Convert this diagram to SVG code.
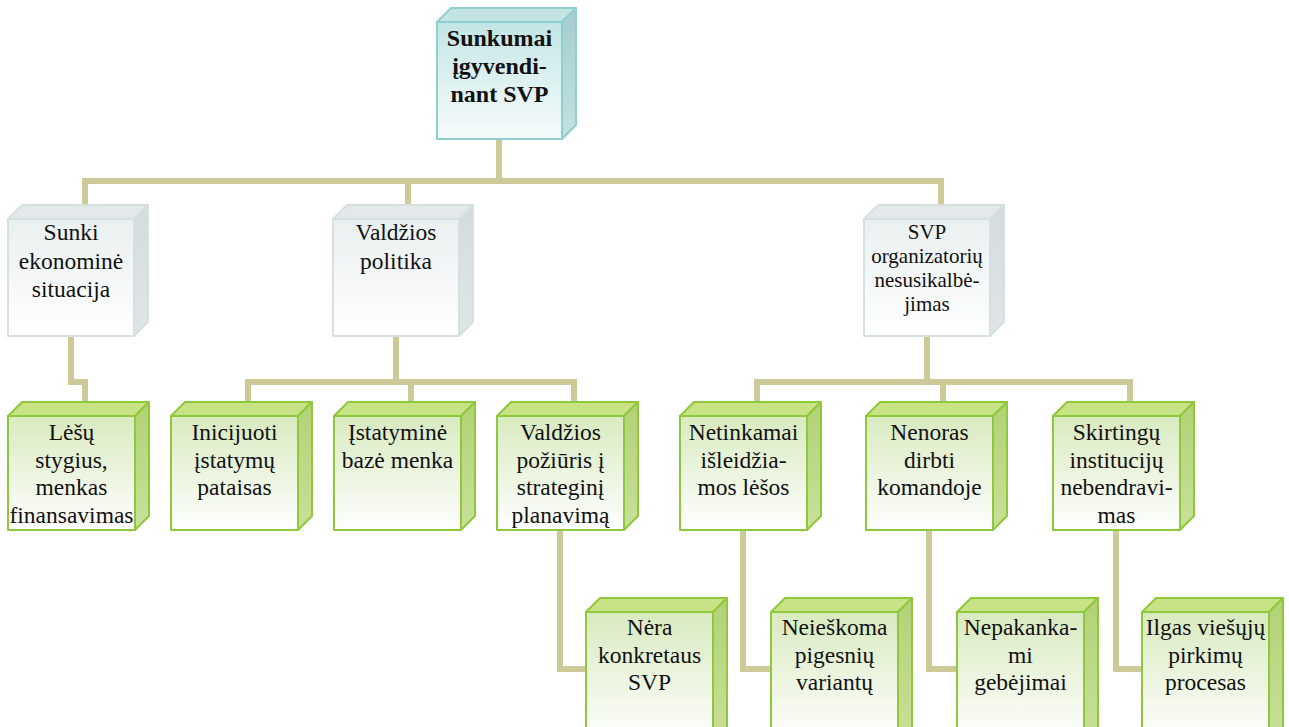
<svg xmlns="http://www.w3.org/2000/svg" width="1289" height="727" viewBox="0 0 1289 727" font-family="'Liberation Serif', 'Times New Roman', Times, 'DejaVu Serif', serif">
  <defs>
    <linearGradient id="frontTeal" x1="0" y1="0" x2="0" y2="1">
      <stop offset="0" stop-color="#c3e5e5"/>
      <stop offset="1" stop-color="#f7fcfc"/>
    </linearGradient>
    <linearGradient id="sideTeal" x1="0" y1="0" x2="0" y2="1">
      <stop offset="0" stop-color="#a4cdcd"/>
      <stop offset="1" stop-color="#c4e1e1"/>
    </linearGradient>
    <linearGradient id="frontGray" x1="0" y1="0" x2="0" y2="1">
      <stop offset="0" stop-color="#eaeff0"/>
      <stop offset="1" stop-color="#ffffff"/>
    </linearGradient>
    <linearGradient id="sideGray" x1="0" y1="0" x2="0" y2="1">
      <stop offset="0" stop-color="#d3dbdc"/>
      <stop offset="1" stop-color="#e0e6e7"/>
    </linearGradient>
    <linearGradient id="frontGreen" x1="0" y1="0" x2="0" y2="1">
      <stop offset="0" stop-color="#d8eabf"/>
      <stop offset="1" stop-color="#ffffff"/>
    </linearGradient>
    <linearGradient id="sideGreen" x1="0" y1="0" x2="0" y2="1">
      <stop offset="0" stop-color="#b2d276"/>
      <stop offset="1" stop-color="#c8e098"/>
    </linearGradient>
  </defs>
  <style>
    .conn { fill: none; stroke: #cdc998; stroke-width: 6; stroke-linejoin: miter; stroke-linecap: butt; }
    .teal .front { fill: url(#frontTeal); }
    .teal .top { fill: #c4e3e3; }
    .teal .side { fill: url(#sideTeal); }
    .teal path { stroke: #8fcfcf; stroke-width: 2; stroke-linejoin: round; }
    .gray .front { fill: url(#frontGray); }
    .gray .top { fill: #e3e9ea; }
    .gray .side { fill: url(#sideGray); }
    .gray path { stroke: #d6e0e1; stroke-width: 2; stroke-linejoin: round; }
    .green .front { fill: url(#frontGreen); }
    .green .top { fill: #c8e386; }
    .green .side { fill: url(#sideGreen); }
    .green path { stroke: #8fc83a; stroke-width: 2; stroke-linejoin: round; }
    .lbl { font-family: 'Liberation Serif', 'Times New Roman', 'DejaVu Serif', serif; font-size: 23.5px; fill: #111; text-anchor: middle; }
    .bold { font-weight: bold; font-size: 24px; }
    .small { font-size: 21px; }
  </style>

  <!-- connectors -->
  <g id="connectors">
    <path class="conn" d="M499 139 V181"/>
    <path class="conn" d="M85 205 V181 H941 V205"/>
    <path class="conn" d="M408 181 V205"/>
    <path class="conn" d="M71 336 V382 H85 V402"/>
    <path class="conn" d="M396 336 V382"/>
    <path class="conn" d="M248 402 V382 H574 V402"/>
    <path class="conn" d="M411 382 V402"/>
    <path class="conn" d="M927 336 V382"/>
    <path class="conn" d="M757 402 V382 H1130 V402"/>
    <path class="conn" d="M943 382 V402"/>
    <path class="conn" d="M560 530 V669 H587"/>
    <path class="conn" d="M743 530 V669 H772"/>
    <path class="conn" d="M929 530 V669 H958"/>
    <path class="conn" d="M1116 530 V669 H1143"/>
  </g>

  <!-- root -->
  <g id="node-root" class="teal">
    <path class="top" d="M437 22 L451 8 H576 L562 22 Z"/>
    <path class="side" d="M562 22 L576 8 V125 L562 139 Z"/>
    <path class="front" d="M437 22 H562 V139 H437 Z"/>
    <text class="lbl bold" x="499.5"><tspan x="499.5" y="46">Sunkumai</tspan><tspan x="499.5" y="74">įgyvendi-</tspan><tspan x="499.5" y="102">nant SVP</tspan></text>
  </g>

  <!-- second level -->
  <g id="node-ekonomine" class="gray">
    <path class="top" d="M8 219 L22 205 H148 L134 219 Z"/>
    <path class="side" d="M134 219 L148 205 V322 L134 336 Z"/>
    <path class="front" d="M8 219 H134 V336 H8 Z"/>
    <text class="lbl" x="71"><tspan x="71" y="240">Sunki</tspan><tspan x="71" y="268.5">ekonominė</tspan><tspan x="71" y="297">situacija</tspan></text>
  </g>
  <g id="node-politika" class="gray">
    <path class="top" d="M333 219 L347 205 H473 L459 219 Z"/>
    <path class="side" d="M459 219 L473 205 V322 L459 336 Z"/>
    <path class="front" d="M333 219 H459 V336 H333 Z"/>
    <text class="lbl" x="396"><tspan x="396" y="240">Valdžios</tspan><tspan x="396" y="268.5">politika</tspan></text>
  </g>
  <g id="node-organizatoriai" class="gray">
    <path class="top" d="M864 219 L878 205 H1004 L990 219 Z"/>
    <path class="side" d="M990 219 L1004 205 V322 L990 336 Z"/>
    <path class="front" d="M864 219 H990 V336 H864 Z"/>
    <text class="lbl small" x="927"><tspan x="927" y="239">SVP</tspan><tspan x="927" y="263">organizatorių</tspan><tspan x="927" y="287">nesusikalbė-</tspan><tspan x="927" y="311">jimas</tspan></text>
  </g>

  <!-- third level -->
  <g id="node-lesos" class="green">
    <path class="top" d="M8 416 L22 402 H149 L135 416 Z"/>
    <path class="side" d="M135 416 L149 402 V516 L135 530 Z"/>
    <path class="front" d="M8 416 H135 V530 H8 Z"/>
    <text class="lbl" x="71.5"><tspan x="71.5" y="440">Lėšų</tspan><tspan x="71.5" y="467.5">stygius,</tspan><tspan x="71.5" y="495">menkas</tspan><tspan x="71.5" y="522.5">finansavimas</tspan></text>
  </g>
  <g id="node-pataisos" class="green">
    <path class="top" d="M171 416 L185 402 H312 L298 416 Z"/>
    <path class="side" d="M298 416 L312 402 V516 L298 530 Z"/>
    <path class="front" d="M171 416 H298 V530 H171 Z"/>
    <text class="lbl" x="234.5"><tspan x="234.5" y="440">Inicijuoti</tspan><tspan x="234.5" y="467.5">įstatymų</tspan><tspan x="234.5" y="495">pataisas</tspan></text>
  </g>
  <g id="node-baze" class="green">
    <path class="top" d="M334 416 L348 402 H475 L461 416 Z"/>
    <path class="side" d="M461 416 L475 402 V516 L461 530 Z"/>
    <path class="front" d="M334 416 H461 V530 H334 Z"/>
    <text class="lbl" x="397.5"><tspan x="397.5" y="440">Įstatyminė</tspan><tspan x="397.5" y="467.5">bazė menka</tspan></text>
  </g>
  <g id="node-poziuris" class="green">
    <path class="top" d="M497 416 L511 402 H638 L624 416 Z"/>
    <path class="side" d="M624 416 L638 402 V516 L624 530 Z"/>
    <path class="front" d="M497 416 H624 V530 H497 Z"/>
    <text class="lbl" x="560.5"><tspan x="560.5" y="440">Valdžios</tspan><tspan x="560.5" y="467.5">požiūris į</tspan><tspan x="560.5" y="495">strateginį</tspan><tspan x="560.5" y="522.5">planavimą</tspan></text>
  </g>
  <g id="node-islaidos" class="green">
    <path class="top" d="M680 416 L694 402 H821 L807 416 Z"/>
    <path class="side" d="M807 416 L821 402 V516 L807 530 Z"/>
    <path class="front" d="M680 416 H807 V530 H680 Z"/>
    <text class="lbl" x="743.5"><tspan x="743.5" y="440">Netinkamai</tspan><tspan x="743.5" y="467.5">išleidžia-</tspan><tspan x="743.5" y="495">mos lėšos</tspan></text>
  </g>
  <g id="node-komanda" class="green">
    <path class="top" d="M866 416 L880 402 H1007 L993 416 Z"/>
    <path class="side" d="M993 416 L1007 402 V516 L993 530 Z"/>
    <path class="front" d="M866 416 H993 V530 H866 Z"/>
    <text class="lbl" x="929.5"><tspan x="929.5" y="440">Nenoras</tspan><tspan x="929.5" y="467.5">dirbti</tspan><tspan x="929.5" y="495">komandoje</tspan></text>
  </g>
  <g id="node-institucijos" class="green">
    <path class="top" d="M1053 416 L1067 402 H1194 L1180 416 Z"/>
    <path class="side" d="M1180 416 L1194 402 V516 L1180 530 Z"/>
    <path class="front" d="M1053 416 H1180 V530 H1053 Z"/>
    <text class="lbl" x="1116.5"><tspan x="1116.5" y="440">Skirtingų</tspan><tspan x="1116.5" y="467.5">institucijų</tspan><tspan x="1116.5" y="495">nebendravi-</tspan><tspan x="1116.5" y="522.5">mas</tspan></text>
  </g>

  <!-- fourth level -->
  <g id="node-konkretus" class="green">
    <path class="top" d="M586 612 L600 598 H727 L713 612 Z"/>
    <path class="side" d="M713 612 L727 598 V728 L713 742 Z"/>
    <path class="front" d="M586 612 H713 V742 H586 Z"/>
    <text class="lbl" x="649.5"><tspan x="649.5" y="635">Nėra</tspan><tspan x="649.5" y="662.5">konkretaus</tspan><tspan x="649.5" y="690">SVP</tspan></text>
  </g>
  <g id="node-variantai" class="green">
    <path class="top" d="M771 612 L785 598 H912 L898 612 Z"/>
    <path class="side" d="M898 612 L912 598 V728 L898 742 Z"/>
    <path class="front" d="M771 612 H898 V742 H771 Z"/>
    <text class="lbl" x="834.5"><tspan x="834.5" y="635">Neieškoma</tspan><tspan x="834.5" y="662.5">pigesnių</tspan><tspan x="834.5" y="690">variantų</tspan></text>
  </g>
  <g id="node-gebejimai" class="green">
    <path class="top" d="M957 612 L971 598 H1098 L1084 612 Z"/>
    <path class="side" d="M1084 612 L1098 598 V728 L1084 742 Z"/>
    <path class="front" d="M957 612 H1084 V742 H957 Z"/>
    <text class="lbl" x="1020.5"><tspan x="1020.5" y="635">Nepakanka-</tspan><tspan x="1020.5" y="662.5">mi</tspan><tspan x="1020.5" y="690">gebėjimai</tspan></text>
  </g>
  <g id="node-pirkimai" class="green">
    <path class="top" d="M1142 612 L1156 598 H1283 L1269 612 Z"/>
    <path class="side" d="M1269 612 L1283 598 V728 L1269 742 Z"/>
    <path class="front" d="M1142 612 H1269 V742 H1142 Z"/>
    <text class="lbl" x="1205.5"><tspan x="1205.5" y="635">Ilgas viešųjų</tspan><tspan x="1205.5" y="662.5">pirkimų</tspan><tspan x="1205.5" y="690">procesas</tspan></text>
  </g>
</svg>
